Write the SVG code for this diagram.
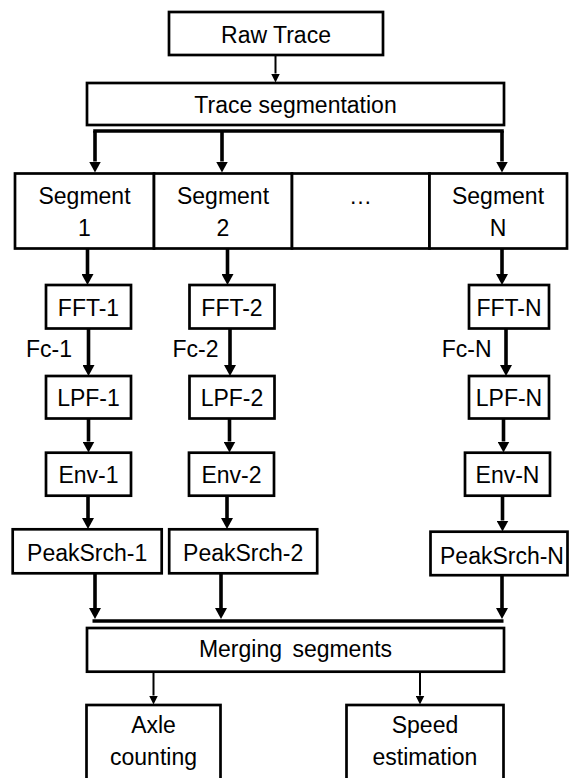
<svg xmlns="http://www.w3.org/2000/svg" width="569" height="778" viewBox="0 0 569 778">
<style>
  .box { fill: #ffffff; stroke: #000000; stroke-width: 2.7; }
  .t { font-family: "Liberation Sans", Arial, sans-serif; font-size: 23px; fill: #000000; text-anchor: middle; }
  .fc { font-family: "Liberation Sans", Arial, sans-serif; font-size: 23px; fill: #000000; text-anchor: end; }
  .thick { stroke: #000000; stroke-width: 3.6; fill: none; }
  .thin { stroke: #000000; stroke-width: 2; fill: none; }
  .a { marker-end: url(#ah); }
  .as { marker-end: url(#ahs); }
</style>
<defs>
  <marker id="ah" viewBox="0 -6 11 12" markerWidth="11" markerHeight="12" refX="0" refY="0" orient="auto" markerUnits="userSpaceOnUse">
    <path d="M0,-6 L11,0 L0,6 z" fill="#000000"/>
  </marker>
  <marker id="ahs" viewBox="0 -4.5 9 9" markerWidth="9" markerHeight="9" refX="0" refY="0" orient="auto" markerUnits="userSpaceOnUse">
    <path d="M0,-4.5 L9,0 L0,4.5 z" fill="#000000"/>
  </marker>
</defs>
<rect width="569" height="778" fill="#ffffff"/>

<g id="connectors">
  <line class="thin as" x1="275.5" y1="55" x2="275.5" y2="73.5"/>
  <path class="thick" d="M95,131 H502" stroke-linecap="square"/>
  <line class="thick a" x1="95" y1="131" x2="95" y2="161.5"/>
  <line class="thick a" x1="222" y1="131" x2="222" y2="161.5"/>
  <line class="thick a" x1="502" y1="131" x2="502" y2="161.5"/>

  <line class="thick a" x1="87.5" y1="248.5" x2="87.5" y2="274"/>
  <line class="thick a" x1="227.5" y1="248.5" x2="227.5" y2="274"/>
  <line class="thick a" x1="502" y1="248.5" x2="502" y2="274"/>

  <line class="thick a" x1="88.5" y1="328.5" x2="88.5" y2="365"/>
  <line class="thick a" x1="230" y1="328.5" x2="230" y2="365"/>
  <line class="thick a" x1="506" y1="328.5" x2="506" y2="365"/>

  <line class="thick a" x1="88.5" y1="418.5" x2="88.5" y2="441.5"/>
  <line class="thick a" x1="229.5" y1="418.5" x2="229.5" y2="441.5"/>
  <line class="thick a" x1="503.5" y1="418.5" x2="503.5" y2="441.5"/>

  <line class="thick a" x1="88" y1="495.5" x2="88" y2="518"/>
  <line class="thick a" x1="227" y1="495.5" x2="227" y2="518"/>
  <line class="thick a" x1="502.5" y1="495.5" x2="502.5" y2="520.5"/>

  <line class="thick a" x1="95" y1="573.5" x2="95" y2="608"/>
  <line class="thick a" x1="221" y1="573.5" x2="221" y2="608"/>
  <line class="thick a" x1="502" y1="575.5" x2="502" y2="608"/>
  <path class="thick" d="M92.5,621 H503.5"/>

  <line class="thin as" x1="153.5" y1="672" x2="153.5" y2="695.5"/>
  <line class="thin as" x1="420" y1="672" x2="420" y2="695.5"/>
</g>

<g id="raw-trace">
  <rect class="box" x="169" y="12" width="214" height="43"/>
  <text class="t" x="276" y="43">Raw Trace</text>
</g>
<g id="trace-segmentation">
  <rect class="box" x="87" y="83" width="417" height="42"/>
  <text class="t" x="295.5" y="113">Trace segmentation</text>
</g>

<g id="segment-1">
  <rect class="box" x="15" y="173.5" width="139" height="75"/>
  <text class="t" x="84.5" y="203.5">Segment</text>
  <text class="t" x="84.5" y="235.5">1</text>
</g>
<g id="segment-2">
  <rect class="box" x="154" y="173.5" width="138" height="75"/>
  <text class="t" x="223" y="203.5">Segment</text>
  <text class="t" x="223" y="235.5">2</text>
</g>
<g id="segment-dots">
  <rect class="box" x="292" y="173.5" width="137.5" height="75"/>
  <text class="t" x="360.5" y="203.5">…</text>
</g>
<g id="segment-n">
  <rect class="box" x="429.5" y="173.5" width="137.5" height="75"/>
  <text class="t" x="498" y="203.5">Segment</text>
  <text class="t" x="498" y="235.5">N</text>
</g>

<g id="fft-1">
  <rect class="box" x="46" y="285" width="85" height="43.5"/>
  <text class="t" x="88.5" y="315.5">FFT-1</text>
</g>
<g id="fft-2">
  <rect class="box" x="189.5" y="285" width="85" height="43.5"/>
  <text class="t" x="232" y="315.5">FFT-2</text>
</g>
<g id="fft-n">
  <rect class="box" x="469" y="285" width="80" height="43.5"/>
  <text class="t" x="509" y="315.5">FFT-N</text>
</g>

<g id="fc-labels">
  <text class="fc" x="72" y="356.5">Fc-1</text>
  <text class="fc" x="218.5" y="356.5">Fc-2</text>
  <text class="fc" x="491.5" y="356.5">Fc-N</text>
</g>

<g id="lpf-1">
  <rect class="box" x="46" y="376" width="85" height="42.5"/>
  <text class="t" x="88.5" y="406">LPF-1</text>
</g>
<g id="lpf-2">
  <rect class="box" x="189.5" y="376" width="85" height="42.5"/>
  <text class="t" x="232" y="406">LPF-2</text>
</g>
<g id="lpf-n">
  <rect class="box" x="469" y="376" width="80" height="42.5"/>
  <text class="t" x="509" y="406">LPF-N</text>
</g>

<g id="env-1">
  <rect class="box" x="46" y="452.7" width="85" height="43"/>
  <text class="t" x="88.5" y="482.5">Env-1</text>
</g>
<g id="env-2">
  <rect class="box" x="189" y="452.7" width="85" height="43"/>
  <text class="t" x="231.5" y="482.5">Env-2</text>
</g>
<g id="env-n">
  <rect class="box" x="465" y="452.7" width="85" height="43"/>
  <text class="t" x="507.5" y="482.5">Env-N</text>
</g>

<g id="peaksrch-1">
  <rect class="box" x="12.7" y="529.3" width="149" height="44"/>
  <text class="t" x="87.2" y="561">PeakSrch-1</text>
</g>
<g id="peaksrch-2">
  <rect class="box" x="169.2" y="529.3" width="148" height="44"/>
  <text class="t" x="243.2" y="561">PeakSrch-2</text>
</g>
<g id="peaksrch-n">
  <rect class="box" x="430.5" y="531.7" width="137" height="43.5"/>
  <text class="t" x="502" y="563.5">PeakSrch-N</text>
</g>

<g id="merging-segments">
  <rect class="box" x="87" y="628" width="417" height="43.7"/>
  <text class="t" x="295.5" y="657" word-spacing="4">Merging segments</text>
</g>

<g id="axle-counting">
  <rect class="box" x="86.5" y="705" width="134" height="80"/>
  <text class="t" x="153.5" y="733">Axle</text>
  <text class="t" x="153.5" y="765">counting</text>
</g>
<g id="speed-estimation">
  <rect class="box" x="346.5" y="705" width="157" height="80"/>
  <text class="t" x="425" y="733">Speed</text>
  <text class="t" x="425" y="765">estimation</text>
</g>
</svg>
